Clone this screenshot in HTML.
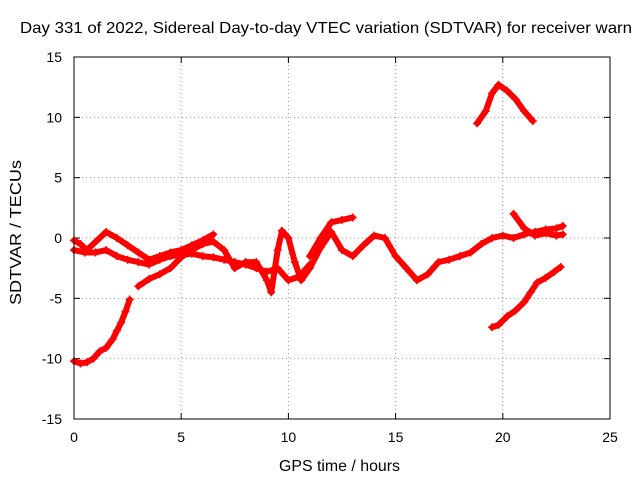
<!DOCTYPE html>
<html><head><meta charset="utf-8"><style>
body{margin:0;background:#fff;}
svg text{font-family:"Liberation Sans",sans-serif;font-size:14px;fill:#000;}
</style></head><body>
<svg id="chart" width="640" height="480">
<text x="20" y="33" textLength="612" lengthAdjust="spacingAndGlyphs" style="font-size:16px">Day 331 of 2022, Sidereal Day-to-day VTEC variation (SDTVAR) for receiver warn</text>
<g id="grid"></g><g id="axes"></g><g id="data"></g>
<rect x="74" y="57" width="536" height="362" fill="none" stroke="#000"/>
<text x="279" y="471" textLength="121" lengthAdjust="spacingAndGlyphs" style="font-size:16px">GPS time / hours</text>
<text transform="translate(21,305) rotate(-90)" textLength="145" lengthAdjust="spacingAndGlyphs" style="font-size:16px">SDTVAR / TECUs</text>
</svg>
<script>
const xTicks=[0,5,10,15,20,25];
const yTicks=[-15,-10,-5,0,5,10,15];
const seriesA=[[0,-10.2],[0.3,-10.4],[0.6,-10.3],[0.9,-10],[1.2,-9.4],[1.5,-9.1],[1.8,-8.4],[2.0,-7.7],[2.2,-7],[2.4,-6.1],[2.6,-5.1]];
const seriesB=[[0,-1],[0.5,-1.2],[1,-1.2],[1.5,-1],[2,-1.5],[2.5,-1.8],[3,-2],[3.5,-2.2],[4,-1.8],[4.5,-1.5],[5,-1.4],[5.5,-1.3],[6,-1.5],[6.5,-1.6],[7,-1.8],[7.5,-2],[8,-2.2],[8.5,-2.5],[9,-2.8],[9.5,-2.5],[10,-3.5],[10.5,-3.2],[11,-2.2]];
const seriesC=[[0,-0.2],[0.3,-0.5],[0.6,-1],[1.5,0.5],[2,0],[2.5,-0.6],[3,-1.2],[3.5,-1.8],[4,-1.5],[4.5,-1.2],[5,-1],[5.5,-0.6],[6,-0.2],[6.5,0.3]];
const seriesD=[[3,-4],[3.5,-3.4],[4,-3],[4.5,-2.5],[5,-1.6],[5.5,-1],[6,-0.5],[6.5,-0.3],[7,-1],[7.5,-2.5],[8,-2],[8.5,-2],[9,-3.5],[9.2,-4.5],[9.5,-1],[9.7,0.6],[10,0],[10.3,-2],[10.6,-3.5],[11,-2.5],[11.5,-0.8],[12,0.5],[12.5,-1],[13,-1.5],[13.5,-0.6],[14,0.2],[14.5,0],[15,-1.5],[15.5,-2.5],[16,-3.5],[16.5,-3],[17,-2],[17.5,-1.8],[18,-1.5],[18.5,-1.2],[19,-0.5],[19.5,0],[20,0.2],[20.5,0],[21,0.3],[21.5,0.5],[22,0.7],[22.5,0.8],[22.8,1]];
const seriesE=[[11,-1.5],[11.5,0],[12,1.3],[12.5,1.5],[13,1.7]];
const seriesF=[[18.8,9.5],[19.2,10.5],[19.5,12],[19.8,12.7],[20.2,12.2],[20.6,11.5],[21,10.5],[21.4,9.7]];
const seriesG=[[19.5,-7.4],[19.8,-7.2],[20.2,-6.5],[20.6,-6],[21,-5.3],[21.3,-4.5],[21.6,-3.7],[22,-3.3],[22.4,-2.8],[22.7,-2.4]];
const seriesH=[[20.5,2],[21,0.8],[21.5,0.2],[22,0.4],[22.5,0.2],[22.8,0.3]];
const allSeries=[seriesA,seriesB,seriesC,seriesD,seriesE,seriesF,seriesG,seriesH];
const X=v=>74+v*536/25, Y=v=>238-v*362/30;
const NS='http://www.w3.org/2000/svg';
function mk(t,a,p){const e=document.createElementNS(NS,t);for(const k in a)e.setAttribute(k,a[k]);p.appendChild(e);return e;}
const grid=document.getElementById('grid'),axes=document.getElementById('axes'),data=document.getElementById('data');
xTicks.forEach(t=>{const x=X(t);
 if(t>0&&t<25){const l=mk('line',{x1:x,x2:x,y1:57,y2:419,stroke:'#999','stroke-dasharray':'1,3'},grid);}
 mk('line',{x1:x,x2:x,y1:419,y2:413,stroke:'#000'},axes);mk('line',{x1:x,x2:x,y1:57,y2:63,stroke:'#000'},axes);
 const tx=mk('text',{x:x,y:442,'text-anchor':'middle'},axes);tx.textContent=t;
 });
yTicks.forEach(t=>{const y=Y(t);
 if(t>-15&&t<15){const l=mk('line',{x1:74,x2:610,y1:y,y2:y,stroke:'#999','stroke-dasharray':'1,3'},grid);}
 mk('line',{x1:74,x2:80,y1:y,y2:y,stroke:'#000'},axes);mk('line',{x1:604,x2:610,y1:y,y2:y,stroke:'#000'},axes);
 const tx=mk('text',{x:62,y:y+5,'text-anchor':'end'},axes);tx.textContent=t;
 });
allSeries.forEach((s,i)=>{
 const pl=mk('polyline',{points:s.map(p=>X(p[0])+','+Y(p[1])).join(' '),fill:'none',stroke:'#f00','stroke-width':6,'stroke-linejoin':'round','stroke-linecap':'round'},data);
 
 
 s.forEach(p=>{const x=X(p[0]),y=Y(p[1]);
  mk('path',{d:`M${x-4},${y}h8M${x},${y-4}v8`,stroke:'#f00','stroke-width':1.5},data);});
});
</script>
</body></html>
